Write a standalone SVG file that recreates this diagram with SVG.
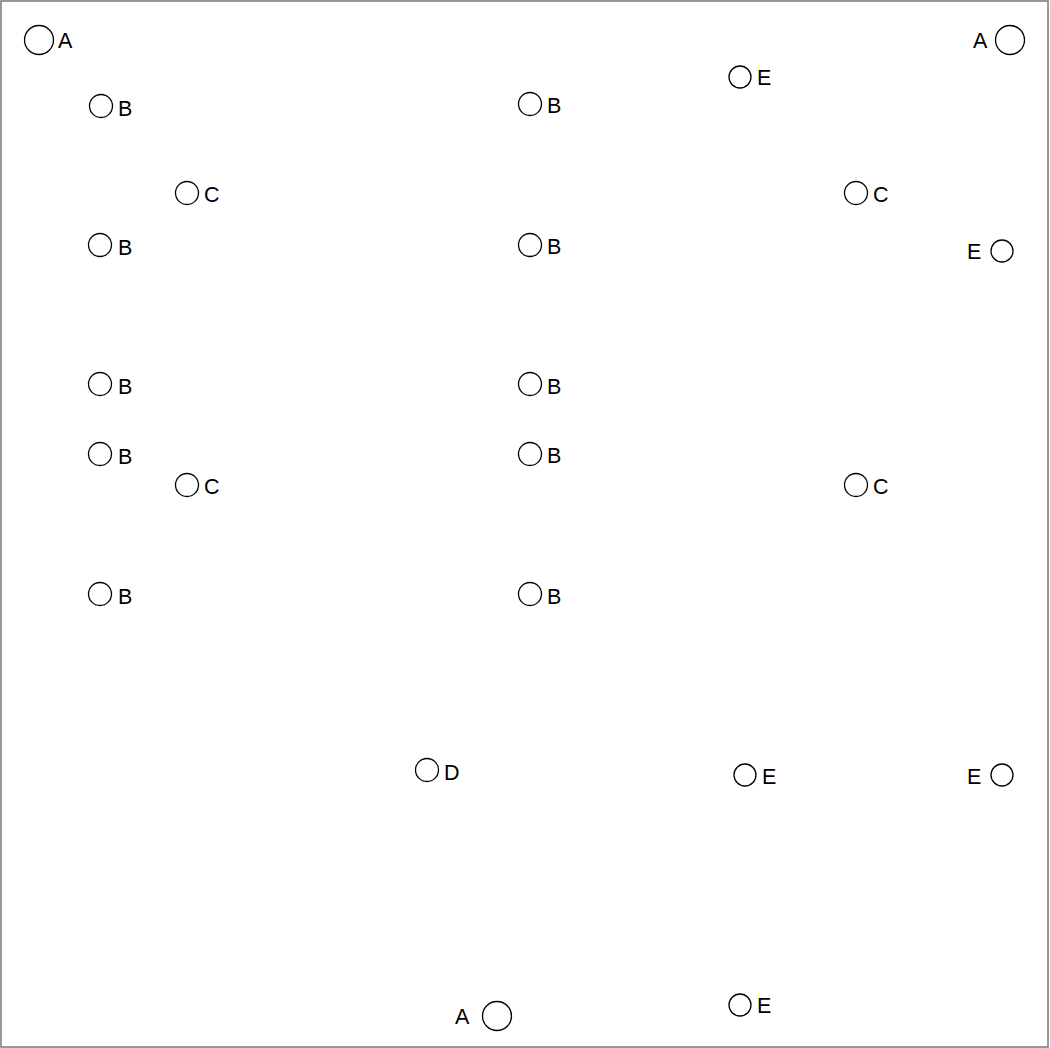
<svg xmlns="http://www.w3.org/2000/svg" width="1050" height="1048" viewBox="0 0 1050 1048">
<style>
.n circle{fill:none;stroke:#000;stroke-width:1.3}
.n text{font-family:"Liberation Sans",Arial,sans-serif;font-size:21.5px;fill:#000}
</style>
<rect x="0" y="0" width="1050" height="1048" fill="#fff"/>
<rect x="1" y="1" width="1047" height="1046" fill="none" stroke="#777" stroke-width="1.5"/>
<g id="connectors"></g>
<g id="n1" class="n"><circle cx="39" cy="40" r="14.5"/><text x="58" y="48">A</text></g>
<g id="n2" class="n"><circle cx="1010" cy="40" r="14.5"/><text x="973" y="48">A</text></g>
<g id="n3" class="n"><circle cx="740" cy="77" r="11"/><text x="757" y="85">E</text></g>
<g id="n4" class="n"><circle cx="101" cy="106" r="11.5"/><text x="118" y="116">B</text></g>
<g id="n5" class="n"><circle cx="530" cy="104" r="11.5"/><text x="547" y="113">B</text></g>
<g id="n6" class="n"><circle cx="187" cy="193" r="11.5"/><text x="204" y="202">C</text></g>
<g id="n7" class="n"><circle cx="856" cy="193" r="11.5"/><text x="873" y="202">C</text></g>
<g id="n8" class="n"><circle cx="100" cy="245" r="11.5"/><text x="118" y="255">B</text></g>
<g id="n9" class="n"><circle cx="530" cy="245" r="11.5"/><text x="547" y="254">B</text></g>
<g id="n10" class="n"><circle cx="1002" cy="251" r="11"/><text x="967" y="259">E</text></g>
<g id="n11" class="n"><circle cx="100" cy="384" r="11.5"/><text x="118" y="394">B</text></g>
<g id="n12" class="n"><circle cx="530" cy="384" r="11.5"/><text x="547" y="394">B</text></g>
<g id="n13" class="n"><circle cx="100" cy="454" r="11.5"/><text x="118" y="464">B</text></g>
<g id="n14" class="n"><circle cx="530" cy="454" r="11.5"/><text x="547" y="463">B</text></g>
<g id="n15" class="n"><circle cx="187" cy="485" r="11.5"/><text x="204" y="494">C</text></g>
<g id="n16" class="n"><circle cx="856" cy="485" r="11.5"/><text x="873" y="494">C</text></g>
<g id="n17" class="n"><circle cx="100" cy="594" r="11.5"/><text x="118" y="604">B</text></g>
<g id="n18" class="n"><circle cx="530" cy="594" r="11.5"/><text x="547" y="604">B</text></g>
<g id="n19" class="n"><circle cx="427" cy="770" r="11.5"/><text x="444" y="780">D</text></g>
<g id="n20" class="n"><circle cx="745" cy="775" r="11"/><text x="762" y="784">E</text></g>
<g id="n21" class="n"><circle cx="1002" cy="775" r="11"/><text x="967" y="784">E</text></g>
<g id="n22" class="n"><circle cx="740" cy="1005" r="11"/><text x="757" y="1013">E</text></g>
<g id="n23" class="n"><circle cx="497" cy="1016" r="14.5"/><text x="455" y="1024">A</text></g>
</svg>
